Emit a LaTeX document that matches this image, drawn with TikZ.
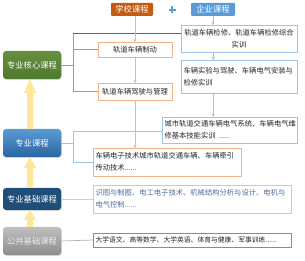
\documentclass[tikz,border=0pt]{standalone}
\usepackage{fontspec}
\setmainfont{Noto Sans CJK SC}
\usetikzlibrary{arrows.meta,calc,shadows}
\definecolor{schoolc}{HTML}{C55A11}
\definecolor{entc}{HTML}{5B9BD5}
\definecolor{oline}{HTML}{F4B183}
\definecolor{bline}{HTML}{9DC3E6}
\definecolor{gline}{HTML}{8FA58A}
\definecolor{gdark}{HTML}{5E665E}
\definecolor{yarr}{HTML}{FFE699}
\definecolor{txt}{HTML}{262626}
\definecolor{jtxt}{HTML}{4F6E9C}
\definecolor{greentop}{HTML}{668F3F}
\definecolor{greenbot}{HTML}{4E7A2E}
\definecolor{bluebot}{HTML}{2A65A0}
\definecolor{navy}{HTML}{1F4E79}
\begin{document}
\begin{tikzpicture}[x=1pt,y=-1pt,
  every node/.style={inner sep=0pt, outer sep=0pt},
  bodytext/.style={font=\fontsize{7.3}{11.8}\selectfont, text=txt, inner xsep=2.5pt},
  obox/.style={bodytext, draw=oline, fill=white, line width=0.7pt},
  bbox/.style={bodytext, draw=bline, fill=white, line width=0.7pt},
  head/.style={font=\fontsize{8.3}{9}\selectfont, text=white, rounded corners=1pt},
  lbox/.style={font=\fontsize{8.3}{9}\selectfont, text=white, rounded corners=3pt,
    minimum width=58pt, drop shadow={shadow xshift=0.8pt, shadow yshift=-0.8pt, opacity=0.35}},
  oconn/.style={draw=oline, line width=0.7pt, -{Stealth[length=3pt,width=3pt]}},
  bconn/.style={draw=bline, line width=0.7pt, -{Stealth[length=3pt,width=3pt]}},
  gconn/.style={draw=gline, line width=0.7pt},
  gdconn/.style={draw=gdark, line width=0.7pt},
  blconn/.style={draw=bline, line width=0.7pt},
  yfill/.style={fill=yarr}
]
\useasboundingbox[fill=white] (0,0) rectangle (305,261);

% header
\node[head, fill=schoolc, minimum width=42pt, minimum height=13pt] (hs) at (132,9.5) {学校课程};
\node[head, fill=entc, minimum width=44pt, minimum height=13pt] (hq) at (213,9.5) {企业课程};
\fill[entc] (168.5,8.8) rectangle (175.5,11.2);
\fill[entc] (170.8,6.5) rectangle (173.2,13.5);

% enterprise boxes
\node[bbox, minimum width=116pt, minimum height=27pt, text width=111pt, align=center] (b1) at (239,38.5)
  {轨道车辆检修、轨道车辆检修综合\\实训};
\node[bbox, minimum width=116pt, minimum height=33pt, text width=111pt, align=left] (b2) at (239,76.5)
  {车辆实验与驾驶、车辆电气安装与\\检修实训};
\node[bbox, minimum width=135pt, minimum height=26pt, text width=130pt, align=left] (b3) at (229.5,130)
  {城市轨道交通车辆电气系统、车辆电气维\\修基本技能实训 ......};

% school boxes
\node[obox, minimum width=74pt, minimum height=15pt, text width=69pt, align=center] (o1) at (135,49.5) {轨道车辆制动};
\node[obox, minimum width=74pt, minimum height=17pt, text width=69pt, align=center] (o2) at (135,91.5) {轨道车辆驾驶与管理};
\node[obox, minimum width=148pt, minimum height=28pt, text width=143pt, align=left] (o3) at (167,162)
  {车辆电子技术城市轨道交通车辆、车辆牵引\\传动技术......};

\node[bodytext, text=jtxt, draw=bline!80, fill=white, line width=0.7pt, minimum width=198pt, minimum height=28pt, text width=193pt, align=left] (j1) at (192,199)
  {识图与制图、电工电子技术、机械结构分析与设计、电机与\\电气控制......};
\node[bodytext, font=\fontsize{6.8}{8}\selectfont, text=black!85, draw=black!45, fill=white, line width=0.7pt, minimum width=198pt, minimum height=14pt, text width=193pt, align=left] (g1) at (192,240)
  {大学语文、高等数学、大学英语、体育与健康、军事训练......};

% left column
\node[lbox, top color=greentop, bottom color=greenbot, minimum height=28pt] (L1) at (32,65) {专业核心课程};
\node[lbox, top color=entc, bottom color=bluebot, minimum height=28pt] (L2) at (32,143) {专业课程};
\node[lbox, fill=navy, minimum height=22pt] (L3) at (32,199) {专业基础课程};
\node[lbox, top color=black!25, bottom color=black!45, text=white!92!black, minimum height=28pt] (L4) at (32,241) {公共基础课程};

% yellow block arrows
\fill[yfill] ($(L2.north)+(-5,0)$) -- ($(L1.south)+(-5,14)$) -- ($(L1.south)+(-8,14)$) -- ($(L1.south)+(-2,0)$)
  -- ($(L1.south)+(4,14)$) -- ($(L1.south)+(1,14)$) -- ($(L2.north)+(1,0)$) -- cycle;
\fill[yfill] ($(L3.north)+(-5,0)$) -- ($(L2.south)+(-5,11)$) -- ($(L2.south)+(-8,11)$) -- ($(L2.south)+(-2,0)$)
  -- ($(L2.south)+(4,11)$) -- ($(L2.south)+(1,11)$) -- ($(L3.north)+(1,0)$) -- cycle;
\fill[yfill] ($(L4.north)+(-5,0)$) -- ($(L3.south)+(-5,10)$) -- ($(L3.south)+(-8,10)$) -- ($(L3.south)+(-2,0)$)
  -- ($(L3.south)+(4,10)$) -- ($(L3.south)+(1,10)$) -- ($(L4.north)+(1,0)$) -- cycle;

% green connectors
\coordinate (gtop) at (73,33);
\coordinate (gbot) at (73,91.5);
\draw[gconn] (L1.east) -- (L1.east -| gtop);
\draw[gconn] (gtop) -- (gbot);
\draw[gdconn] (gtop) -- (gtop -| b1.west);
\draw[gconn] (gtop |- o1.west) -- (o1.west);
\draw[gconn] (gbot) -- (o2.west);

% blue connectors
\coordinate (btop) at (73,131);
\coordinate (bbot) at (73,162);
\draw[blconn] (L2.east) -- (L2.east -| btop);
\draw[blconn] (btop) -- (bbot);
\draw[blconn] (btop) -- (btop -| b3.west);
\draw[blconn] (bbot) -- (o3.west);

\draw[draw=bline!70, line width=0.7pt] (L3.east) -- (j1.west);
\draw[draw=black!30, line width=0.7pt] (L4.east) -- (g1.west);

% vertical flow lines
\draw[oconn] (o1.north |- hs.south) -- (o1.north);
\draw[oconn] (o1.south) -- (o2.north);
\draw[oconn] (o2.south) -- (o2.south |- o3.north);
\draw[bconn] (hq.south) -- (hq.south |- b1.north);
\draw[bconn] (hq.south |- b1.south) -- (hq.south |- b2.north);
\draw[bconn] (hq.south |- b2.south) -- (hq.south |- b3.north);
\end{tikzpicture}
\end{document}
